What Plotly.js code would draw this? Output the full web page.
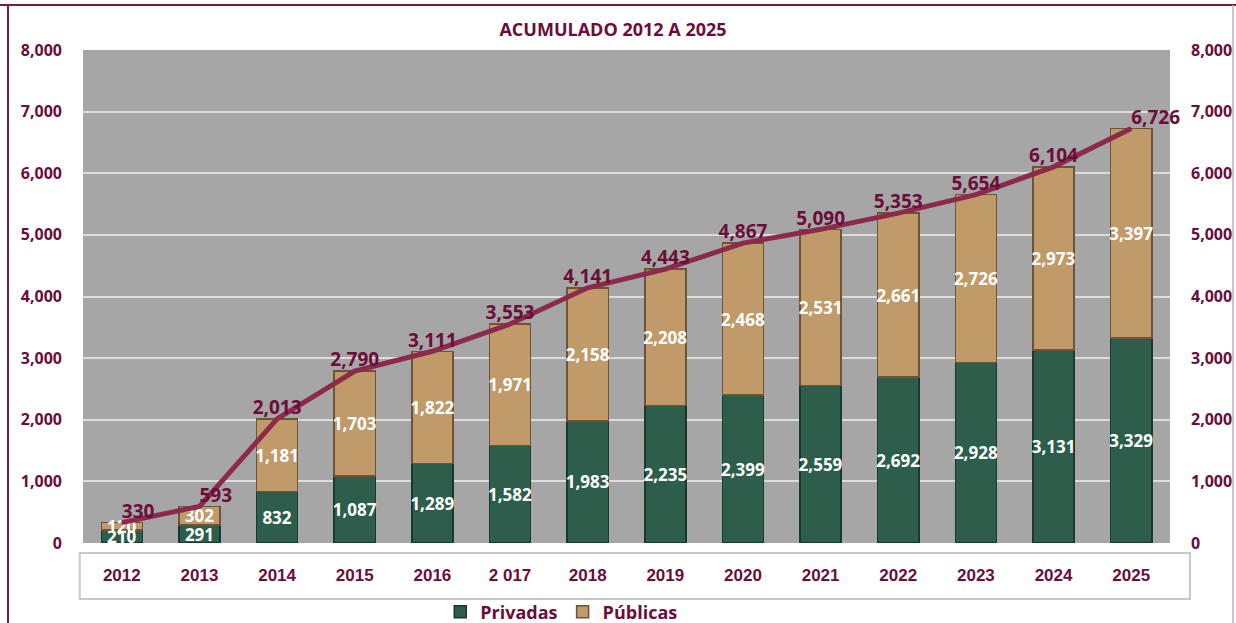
<!DOCTYPE html>
<html>
<head>
<meta charset="utf-8">
<script src="https://cdn.plot.ly/plotly-3.0.1.min.js"></script>
<style>
  html, body { margin: 0; padding: 0; background: #fff; }
  #graphics { width: 1236px; height: 623px; }
</style>
</head>
<body>
<div id="graphics"></div>
<script>
var years = ['2012', '2013', '2014', '2015', '2016', '2 017', '2018', '2019', '2020', '2021', '2022', '2023', '2024', '2025'];
var privadas = [210, 291, 832, 1087, 1289, 1582, 1983, 2235, 2399, 2559, 2692, 2928, 3131, 3329];
var publicas = [120, 302, 1181, 1703, 1822, 1971, 2158, 2208, 2468, 2531, 2661, 2726, 2973, 3397];
var total = [330, 593, 2013, 2790, 3111, 3553, 4141, 4443, 4867, 5090, 5353, 5654, 6104, 6726];
var yTicks = [0, 1000, 2000, 3000, 4000, 5000, 6000, 7000, 8000];

var maroon = '#6b0d3a';
var labelFont = {family: 'Open Sans, sans-serif', size: 17, color: '#ffffff', weight: 'bold'};

// where each total label sits relative to its point
var totalPos = years.map(function(y, i) {
  return (i < 2 || i === years.length - 1) ? 'top right' : 'top center';
});

var privTrace = {
  x: years, y: privadas, name: 'Privadas', type: 'bar',
  marker: {color: '#2d5e4c', line: {color: '#183a2e', width: 1.5}},
  texttemplate: '%{y:,}', textposition: 'inside', insidetextanchor: 'middle', textangle: 0,
  textfont: labelFont, hoverinfo: 'skip'
};
var pubTrace = {
  x: years, y: publicas, name: 'Públicas', type: 'bar',
  marker: {color: '#c09a68', line: {color: '#6e5334', width: 1.5}},
  texttemplate: '%{y:,}', textposition: 'inside', insidetextanchor: 'middle', textangle: 0,
  textfont: labelFont, hoverinfo: 'skip'
};
var totalTrace = {
  x: years, y: total, type: 'scatter', mode: 'lines+text', showlegend: false, cliponaxis: false,
  line: {color: '#8c2a4c', width: 5},
  texttemplate: '%{y:,}', textposition: totalPos,
  textfont: {family: 'Open Sans, sans-serif', size: 19, color: maroon, weight: 'bold'},
  hoverinfo: 'skip'
};
// invisible trace so the right axis is drawn
var rightAxis = {
  x: years, y: total, yaxis: 'y2', type: 'scatter', mode: 'none',
  showlegend: false, hoverinfo: 'skip'
};

var tickFont = {family: 'Open Sans, sans-serif', size: 16, color: maroon, weight: 'bold'};

var layout = {
  width: 1236, height: 623,
  barmode: 'stack', bargap: 0.47,
  paper_bgcolor: '#ffffff', plot_bgcolor: '#a6a6a6',
  margin: {l: 83, r: 66, t: 50, b: 80, autoexpand: false},
  title: {text: 'ACUMULADO 2012 A 2025', x: 613 / 1236, xref: 'container', xanchor: 'center',
          y: 1 - 30 / 623, yref: 'container', yanchor: 'middle',
          font: {family: 'Liberation Sans Narrow, Open Sans, sans-serif', size: 18, color: maroon, weight: 'bold'}},
  uniformtext: {mode: 'show', minsize: 17},
  xaxis: {
    type: 'category', range: [-0.5, years.length - 0.5], showgrid: false, zeroline: false,
    ticks: '', ticklabelstandoff: 20, automargin: false,
    tickfont: {family: 'Liberation Sans, Arial, sans-serif', size: 17, color: maroon, weight: 'bold'}
  },
  yaxis: {
    range: [0, 8000], tickvals: yTicks, tickformat: ',', showgrid: true, automargin: false,
    gridcolor: '#dcdcdc', gridwidth: 2, zeroline: false, ticks: '', ticklabelstandoff: 20,
    tickfont: tickFont
  },
  yaxis2: {
    range: [0, 8000], tickvals: yTicks, tickformat: ',', overlaying: 'y', side: 'right', automargin: false,
    showgrid: false, zeroline: false, ticks: '', ticklabelstandoff: 20, tickfont: tickFont
  },
  legend: {
    orientation: 'h', traceorder: 'normal', x: 0.44, xanchor: 'center', y: -0.14, yanchor: 'middle',
    font: {family: 'Open Sans, sans-serif', size: 18, color: maroon, weight: 'bold'},
    bgcolor: 'rgba(0,0,0,0)'
  },
  shapes: [
    // box around the year labels
    {type: 'rect', xref: 'paper', yref: 'paper', x0: -0.003, x1: 1.0184, y0: -0.0203, y1: -0.1136,
     line: {color: '#c8c8c8', width: 2}, fillcolor: 'rgba(0,0,0,0)', layer: 'below'},
    // page frame
    {type: 'line', xref: 'paper', yref: 'paper', x0: -0.069, x1: -0.069, y0: 1.0913, y1: -0.2,
     line: {color: '#7a1a45', width: 2}},
    {type: 'line', xref: 'paper', yref: 'paper', x0: -0.08, x1: 1.07, y0: 1.0913, y1: 1.0913,
     line: {color: '#7a1a45', width: 2}},
    {type: 'line', xref: 'paper', yref: 'paper', x0: 1.058, x1: 1.058, y0: 1.0913, y1: -0.2,
     line: {color: '#cfa9b9', width: 1.5}}
  ]
};

Plotly.newPlot('graphics', [privTrace, pubTrace, totalTrace, rightAxis], layout, {displayModeBar: false, staticPlot: true});
</script>
</body>
</html>
